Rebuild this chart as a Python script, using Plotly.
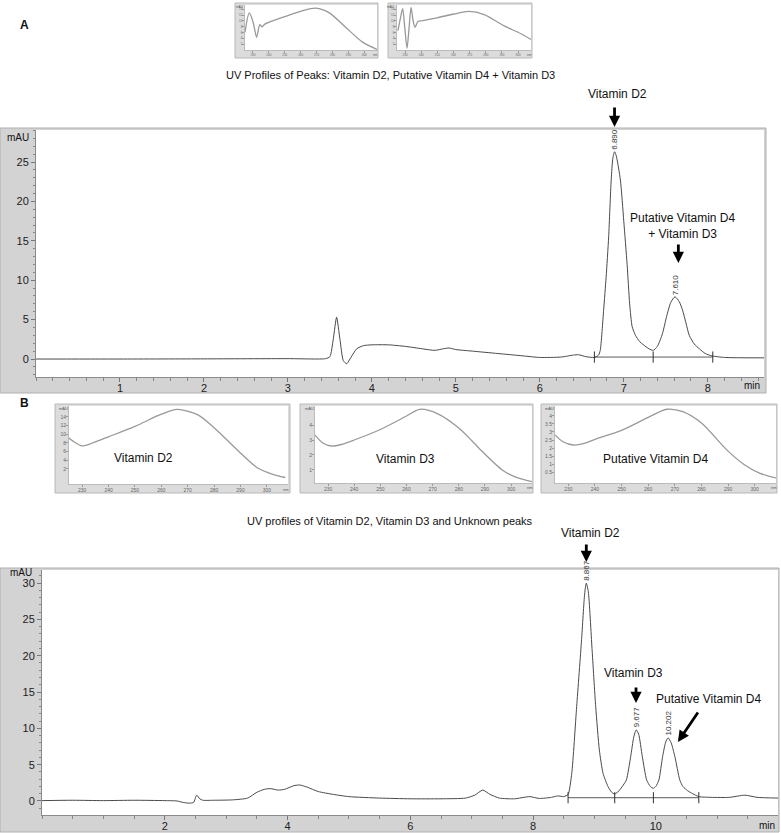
import plotly.graph_objects as go

W, H = 781, 833
FONT = "Liberation Sans, Arial, sans-serif"

# ---- Panel A chromatogram (min, mAU)
a_time = [0.0, 1.0, 2.0, 3.0, 3.45, 3.50, 3.54, 3.58, 3.62, 3.66, 3.70, 3.75, 3.82, 3.90,
          4.00, 4.20, 4.40, 4.60, 4.75, 4.85, 4.92, 5.00, 5.20, 5.50, 5.80, 6.00, 6.25,
          6.40, 6.46, 6.55, 6.65, 6.70, 6.72, 6.76, 6.79, 6.82, 6.85, 6.87, 6.89, 6.91,
          6.96, 7.00, 7.04, 7.07, 7.10, 7.14, 7.19, 7.30, 7.35, 7.40, 7.46, 7.51, 7.56,
          7.61, 7.66, 7.70, 7.74, 7.78, 7.84, 7.90, 7.97, 8.05, 8.20, 8.67]
a_mau = [0.0, 0.0, 0.02, 0.05, 0.05, 0.3, 2.5, 5.3, 2.5, -0.2, -0.6, 0.2, 1.3, 1.7,
         1.8, 1.8, 1.6, 1.3, 1.1, 1.3, 1.4, 1.2, 1.0, 0.7, 0.4, 0.2, 0.25,
         0.5, 0.55, 0.3, 0.2, 0.5, 1.1, 6.2, 10.4, 15.5, 22.7, 25.5, 26.3, 25.8,
         22.7, 17.5, 12.0, 7.0, 4.1, 3.0, 2.2, 1.3, 1.1, 1.6, 3.2, 5.4, 7.2,
         7.9, 7.3, 6.2, 4.6, 3.0, 1.9, 1.3, 0.7, 0.4, 0.2, 0.15]
a_base_time = [6.65, 7.35, 8.06]
a_base_mau = [0.25, 0.25, 0.25]
a_peak_rt = [6.890, 7.610]
a_peak_mau = [26.3, 7.9]
a_peak_labels = ["6.890", "7.610"]
a_xticks = [1, 2, 3, 4, 5, 6, 7, 8]
a_yticks = [0, 5, 10, 15, 20, 25]

# ---- Panel B chromatogram (min, mAU)
b_time = [0.0, 0.5, 1.0, 1.5, 2.0, 2.2, 2.3, 2.4, 2.47, 2.52, 2.57, 2.62, 2.8, 3.1,
          3.35, 3.5, 3.62, 3.72, 3.85, 3.95, 4.1, 4.2, 4.32, 4.5, 4.75, 5.0, 5.5, 6.0,
          6.5, 6.9, 7.05, 7.18, 7.3, 7.45, 7.7, 7.85, 7.95, 8.1, 8.3, 8.4, 8.5, 8.57,
          8.63, 8.71, 8.79, 8.84, 8.867, 8.90, 8.96, 9.02, 9.08, 9.14, 9.22, 9.28, 9.33,
          9.40, 9.47, 9.52, 9.59, 9.64, 9.68, 9.72, 9.78, 9.85, 9.91, 9.96, 10.0, 10.05,
          10.11, 10.16, 10.2, 10.25, 10.31, 10.39, 10.44, 10.52, 10.6, 10.7, 10.9, 11.2,
          11.45, 11.65, 12.0]
b_mau = [0.05, 0.1, 0.05, 0.1, 0.05, 0.0, -0.2, -0.3, -0.2, 0.8, 0.3, 0.1, 0.1, 0.15,
         0.4, 1.2, 1.6, 1.7, 1.5, 1.6, 2.1, 2.2, 1.9, 1.3, 0.9, 0.6, 0.4, 0.3,
         0.3, 0.4, 0.8, 1.5, 0.9, 0.4, 0.3, 0.5, 0.6, 0.35, 0.5, 0.7, 0.6, 0.9,
         3.8, 13.0, 22.2, 28.5, 30.0, 28.8, 21.0, 13.0, 7.0, 3.8, 2.0, 1.2, 0.96,
         1.4, 2.2, 2.9, 6.1, 8.8, 9.8, 9.2, 6.1, 2.9, 2.0, 1.75, 2.0, 2.9,
         6.1, 8.1, 8.7, 8.0, 6.1, 2.9, 2.0, 1.4, 1.0, 0.6, 0.5, 0.5,
         0.8, 0.5, 0.4]
b_base_time = [8.57, 9.33, 9.96, 10.7]
b_base_mau = [0.45, 0.45, 0.45, 0.45]
b_peak_rt = [8.867, 9.677, 10.202]
b_peak_mau = [30.0, 9.8, 8.7]
b_peak_labels = ["8.867", "9.677", "10.202"]
b_xticks = [2, 4, 6, 8, 10]
b_yticks = [0, 5, 10, 15, 20, 25, 30]

# ---- UV spectra insets (nm, mAU)
uv_ticks = [230, 240, 250, 260, 270, 280, 290, 300]
uva1_nm = [225, 227.7, 230.2, 232.3, 234.3, 235.8, 237.5, 251, 261.3, 269.6, 278, 288.3, 298.7, 308]
uva1_mau = [6.1, 12.8, 9.4, 4.4, 8.7, 8.0, 8.9, 11.7, 13.6, 14.4, 12.8, 7.8, 2.8, 0.2]
uva2_nm = [225.6, 227, 228.5, 229.8, 231.2, 232.5, 233.7, 235, 236.2, 237.9, 239.5, 249.9,
           260.3, 269.6, 279, 291.4, 301.8, 308]
uva2_mau = [6.7, 10.6, 14.2, 7.8, 0.6, 7.8, 14.7, 10.0, 7.8, 9.8, 10.0, 11.1,
            12.4, 13.3, 12.2, 8.3, 5.6, 3.6]
uvb1_nm = [224, 226.5, 230, 234, 240, 250, 260, 266, 273.7, 280, 288.9, 296.5, 302, 307]
uvb1_mau = [9.6, 8.4, 7.3, 8.0, 9.4, 11.8, 14.6, 15.7, 14.5, 11.5, 6.3, 2.2, 0.8, 0.0]
uvb2_nm = [225, 228, 231.3, 235, 240, 250, 260, 265, 272, 280, 285, 288, 296.6, 302, 308]
uvb2_mau = [3.33, 2.8, 2.6, 2.7, 3.0, 3.7, 4.6, 5.05, 4.75, 3.8, 2.95, 2.4, 1.0, 0.5, 0.22]
uvb3_nm = [225, 228, 231.9, 236, 240, 250, 260, 267, 273, 280, 289.5, 296, 302, 308]
uvb3_mau = [2.82, 2.4, 2.2, 2.3, 2.55, 3.1, 3.9, 4.4, 4.25, 3.55, 1.9, 1.0, 0.45, 0.17]


def fx(p):
    return p / W


def fy(p):
    return 1 - p / H


fig = go.Figure()

# chromatograms
fig.add_trace(go.Scatter(x=a_time, y=a_mau, mode="lines", xaxis="x", yaxis="y",
                         line=dict(color="#4a4a4a", width=1, shape="spline", smoothing=0.6)))
fig.add_trace(go.Scatter(x=a_base_time, y=a_base_mau, mode="lines+markers", xaxis="x", yaxis="y",
                         line=dict(color="#303030", width=0.8),
                         marker=dict(symbol="line-ns-open", size=8, line=dict(color="#303030", width=1))))
fig.add_trace(go.Scatter(x=b_time, y=b_mau, mode="lines", xaxis="x2", yaxis="y2",
                         line=dict(color="#4a4a4a", width=1, shape="spline", smoothing=0.6)))
fig.add_trace(go.Scatter(x=b_base_time, y=b_base_mau, mode="lines+markers", xaxis="x2", yaxis="y2",
                         line=dict(color="#303030", width=0.8),
                         marker=dict(symbol="line-ns-open", size=8, line=dict(color="#303030", width=1))))

# UV spectra
for i, (nm, mau) in enumerate([(uva1_nm, uva1_mau), (uva2_nm, uva2_mau), (uvb1_nm, uvb1_mau),
                               (uvb2_nm, uvb2_mau), (uvb3_nm, uvb3_mau)]):
    n = i + 3
    fig.add_trace(go.Scatter(x=nm, y=mau, mode="lines", xaxis=f"x{n}", yaxis=f"y{n}",
                             line=dict(color="#999999", width=1.3, shape="spline", smoothing=0.8)))


def main_x(dom, rng, ticks, minor_dtick, anchor):
    return dict(domain=dom, range=rng, tickvals=ticks, anchor=anchor, ticks="outside", ticklen=4,
                tickcolor="#777", showline=True, linecolor="#8a8a8a", showgrid=False, zeroline=False,
                tickfont=dict(size=11, color="#222"), ticklabelstandoff=-3,
                minor=dict(dtick=minor_dtick, tick0=0, ticks="outside", ticklen=3, tickcolor="#888"))


def main_y(dom, rng, ticks, anchor):
    return dict(domain=dom, range=rng, tickvals=ticks, anchor=anchor, ticks="outside", ticklen=4,
                tickcolor="#777", showline=True, linecolor="#8a8a8a", showgrid=False, zeroline=False,
                tickfont=dict(size=11, color="#222"),
                minor=dict(dtick=1, tick0=0, ticks="outside", ticklen=2, tickcolor="#888"))


def inset_x(dom, anchor, size):
    return dict(domain=dom, range=[225, 308], tickvals=uv_ticks, anchor=anchor, ticks="outside",
                ticklen=2, tickcolor="#999", showline=True, linecolor="#bbb", showgrid=False,
                zeroline=False, tickfont=dict(size=size, color="#666"), ticklabelstandoff=-1)


def inset_y(dom, rng, ticks, anchor, size):
    return dict(domain=dom, range=rng, tickvals=ticks, anchor=anchor, ticks="outside",
                ticklen=2, tickcolor="#999", showline=True, linecolor="#bbb", showgrid=False,
                zeroline=False, tickfont=dict(size=size, color="#666"), ticklabelstandoff=-1)


# pixel boxes: plot areas (x0, x1, y0, y1)
A_MAIN = (36, 764, 130, 377)
B_MAIN = (42, 778, 570, 815)
INSETS = [(245, 377, 5, 50), (397, 531, 5, 50), (69, 288, 406, 484), (315, 532, 406, 483), (555, 776, 406, 483)]
INSET_FRAMES = [(235, 378, 3, 58), (388, 532, 3, 58), (55, 290, 404, 493), (300, 533, 404, 493), (541, 777, 404, 493)]
inset_ranges = [[0, 15.5], [0, 15.5], [-1.5, 16.5], [0.13, 5.27], [-0.14, 4.6]]
inset_yticks = [[2, 4, 6, 8, 10, 12, 14], [2, 4, 6, 8, 10, 12, 14], [2, 4, 6, 8, 10, 12, 14],
                [1, 2, 3, 4], [0.5, 1, 1.5, 2, 2.5, 3, 3.5, 4]]
inset_font = [3, 3, 5, 5, 5]


def xdom(b):
    return [fx(b[0]), fx(b[1])]


def ydom(b):
    return [fy(b[3]), fy(b[2])]


layout = dict(
    width=W, height=H, margin=dict(l=0, r=0, t=0, b=0), showlegend=False,
    paper_bgcolor="white", plot_bgcolor="white", font=dict(family=FONT, color="#111"),
    xaxis=main_x(xdom(A_MAIN), [0, 8.67], a_xticks, 0.2, "y"),
    yaxis=main_y(ydom(A_MAIN), [-2.28, 29.06], a_yticks, "x"),
    xaxis2=main_x(xdom(B_MAIN), [0, 11.99], b_xticks, 0.5, "y2"),
    yaxis2=main_y(ydom(B_MAIN), [-1.93, 31.8], b_yticks, "x2"),
)
for i, box in enumerate(INSETS):
    n = i + 3
    layout[f"xaxis{n}"] = inset_x(xdom(box), f"y{n}", inset_font[i])
    layout[f"yaxis{n}"] = inset_y(ydom(box), inset_ranges[i], inset_yticks[i], f"x{n}", inset_font[i])
fig.update_layout(**layout)

# gray instrument frames, with white plot areas drawn on top of them
shapes = []


def rect(box, fill, edge):
    x0, x1, y0, y1 = box
    shapes.append(dict(type="rect", xref="paper", yref="paper", x0=fx(x0), x1=fx(x1), y0=fy(y1), y1=fy(y0),
                       fillcolor=fill, line=dict(color=edge, width=1 if edge else 0), layer="below"))


rect((0, 766, 128, 393), "#d3d3d3", "#b0b0b0")
rect((0, 779, 568, 832), "#d3d3d3", "#b0b0b0")
rect(A_MAIN, "white", None)
rect(B_MAIN, "white", None)
for frame, box in zip(INSET_FRAMES, INSETS):
    rect(frame, "#dcdcdc", "#b8b8b8")
    rect(box, "white", None)
fig.update_layout(shapes=shapes)

ann = []


def text(x, y, s, size=12, bold=False, color="#111"):
    ann.append(dict(x=fx(x), y=fy(y), xref="paper", yref="paper", text=f"<b>{s}</b>" if bold else s,
                    xanchor="center", yanchor="middle", showarrow=False,
                    font=dict(size=size, family=FONT, color=color)))


text(24, 25, "A", 12, True)
text(24, 403, "B", 12, True)
text(390, 75, "UV Profiles of Peaks: Vitamin D2, Putative Vitamin D4 + Vitamin D3", 11)
text(390, 521, "UV profiles of Vitamin D2, Vitamin D3 and Unknown peaks", 11)
text(617, 94, "Vitamin D2", 12)
text(682, 226, "Putative Vitamin D4<br>+ Vitamin D3", 12)
text(590, 533, "Vitamin D2", 12)
text(633, 673, "Vitamin D3", 12)
text(708, 699, "Putative Vitamin D4", 12)
text(143, 458, "Vitamin D2", 12)
text(405, 459, "Vitamin D3", 12)
text(655, 459, "Putative Vitamin D4", 12)
text(18, 137, "mAU", 10)
text(21, 572, "mAU", 10)
text(752, 386, "min", 10)
text(767, 825, "min", 10)
for i, (x0, x1, y0, y1) in enumerate(INSETS):
    s = 3 if i < 2 else 4
    text(x0 - 6, y0 + 2, "mAU", s, color="#555")
    text(x1 - 2, y1 + 5, "nm", s, color="#555")


def arrow(xr, x, y, ax, ay):
    ann.append(dict(x=x, y=fy(y), xref=xr, yref="paper", ax=ax, ay=ay, text="", showarrow=True,
                    arrowhead=2, arrowsize=0.8, arrowwidth=2.8, arrowcolor="#000"))


arrow("x", a_peak_rt[0], 127, 0, -21)
arrow("x", a_peak_rt[1] + 0.04, 263, 0, -20)
arrow("x2", b_peak_rt[0], 562, 0, -19)
arrow("x2", b_peak_rt[1], 703, 0, -17)
arrow("x2", 10.36, 742, 21, -31)

for rt, h, lab in zip(a_peak_rt, a_peak_mau, a_peak_labels):
    ann.append(dict(x=rt, y=h, xref="x", yref="y", text=lab, textangle=-90, showarrow=False,
                    xanchor="center", yanchor="bottom", yshift=0,
                    font=dict(size=8, family=FONT, color="#333")))
for rt, h, lab in zip(b_peak_rt, b_peak_mau, b_peak_labels):
    ann.append(dict(x=rt, y=h, xref="x2", yref="y2", text=lab, textangle=-90, showarrow=False,
                    xanchor="center", yanchor="bottom", yshift=0,
                    font=dict(size=8, family=FONT, color="#333")))

fig.update_layout(annotations=ann)
# the page's default 8px body margin would push the figure off its 781x833 frame
fig.write_html("out.html", config={"displayModeBar": False},
               post_script="document.body.style.margin = '0';")
